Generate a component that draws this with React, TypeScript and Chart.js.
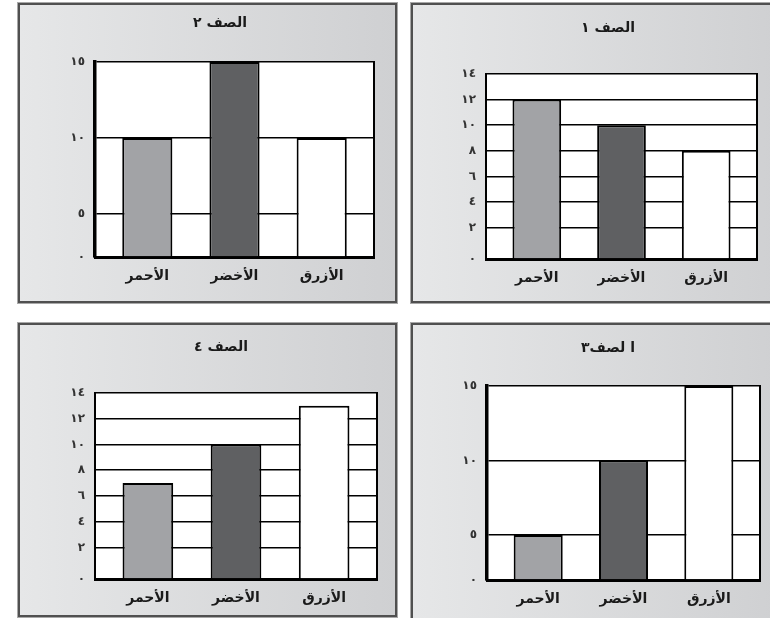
import React, { useEffect, useRef } from 'react';
import { Chart, registerables } from 'chart.js';

Chart.register(...registerables);

// ---- data ----
const categories = ['الأحمر', 'الأخضر', 'الأزرق'];
const barColors = ['#a2a3a6', '#5f6062', '#ffffff'];

const title2 = 'الصف ٢';
const title1 = 'الصف ١';
const title4 = 'الصف ٤';
const title3 = 'ا لصف٣';

const values2 = [10, 15, 10];
const values1 = [12, 10, 8];
const values4 = [7, 10, 13];
const values3 = [5, 10, 15];

const ticksBy5 = [0, 5, 10, 15];
const ticksBy5Labels = ['٠', '٥', '١٠', '١٥'];
const ticksBy2 = [0, 2, 4, 6, 8, 10, 12, 14];
const ticksBy2Labels = ['٠', '٢', '٤', '٦', '٨', '١٠', '١٢', '١٤'];

const FONT = '"DejaVu Sans", sans-serif';

type PanelCfg = {
  title: string;
  values: number[];
  ticks: number[];
  tickLabels: string[];
  yMin: number;
  yMax: number;
  box: { left: number; top: number; width: number; height: number };
  padL: number;
  padR: number;
  yW: number;
  xH: number;
  tTop: number;
  tBot: number;
  yBorder: number;
};

const panels: PanelCfg[] = [
  { title: title2, values: values2, ticks: ticksBy5, tickLabels: ticksBy5Labels, yMin: 2.17, yMax: 15,
    box: { left: 18, top: 3, width: 379, height: 300 }, padL: 46, padR: 21, yW: 29, xH: 44, tTop: 9.6, tBot: 30.6, yBorder: 3.5 },
  { title: title1, values: values1, ticks: ticksBy2, tickLabels: ticksBy2Labels, yMin: -0.45, yMax: 14,
    box: { left: 411, top: 3, width: 370, height: 300 }, padL: 46, padR: 22, yW: 27, xH: 42, tTop: 14.6, tBot: 37.6, yBorder: 2 },
  { title: title4, values: values4, ticks: ticksBy2, tickLabels: ticksBy2Labels, yMin: -0.45, yMax: 14,
    box: { left: 18, top: 323, width: 379, height: 294 }, padL: 45, padR: 18, yW: 30, xH: 36, tTop: 13.6, tBot: 37.6, yBorder: 2 },
  { title: title3, values: values3, ticks: ticksBy5, tickLabels: ticksBy5Labels, yMin: 1.98, yMax: 15,
    box: { left: 411, top: 323, width: 370, height: 300 }, padL: 43, padR: 19, yW: 31, xH: 41, tTop: 14.6, tBot: 29.6, yBorder: 3.5 },
];

const framePlugin = {
  id: 'plotFrame',
  beforeDraw(chart: any) {
    const { ctx, chartArea } = chart;
    ctx.save();
    ctx.fillStyle = '#ffffff';
    ctx.fillRect(chartArea.left, chartArea.top, chartArea.right - chartArea.left, chartArea.bottom - chartArea.top);
    ctx.restore();
  },
  beforeDatasetsDraw(chart: any) {
    const { ctx, chartArea } = chart;
    ctx.save();
    ctx.strokeStyle = '#000';
    ctx.lineWidth = 2;
    ctx.beginPath();
    ctx.moveTo(chartArea.right, chartArea.top - 1);
    ctx.lineTo(chartArea.right, chartArea.bottom);
    ctx.stroke();
    ctx.restore();
  },
};

function Panel({ cfg }: { cfg: PanelCfg }) {
  const ref = useRef<HTMLCanvasElement | null>(null);
  const cw = cfg.box.width - 4;
  const ch = cfg.box.height - 4;

  useEffect(() => {
    if (!ref.current) return;
    const chart = new Chart(ref.current, {
      type: 'bar',
      data: {
        labels: categories,
        datasets: [
          {
            data: cfg.values.map((v, i) => ({ x: i, y: v })),
            backgroundColor: barColors,
            borderColor: '#000',
            borderWidth: 2,
            borderSkipped: 'start',
            base: cfg.yMin,
            barPercentage: 0.575,
            categoryPercentage: 1,
          } as any,
        ],
      },
      options: {
        responsive: false,
        animation: false,
        devicePixelRatio: 1,
        layout: { padding: { left: cfg.padL, right: cfg.padR, top: 0, bottom: 0 } },
        plugins: {
          legend: { display: false },
          tooltip: { enabled: false },
          title: {
            display: true,
            text: cfg.title,
            color: '#1a1a1a',
            font: { family: FONT, size: 14, weight: 'bold' },
            padding: { top: cfg.tTop, bottom: cfg.tBot },
          },
        },
        scales: {
          x: {
            type: 'linear',
            offset: false,
            min: -0.6,
            max: 2.6,
            afterBuildTicks: (scale: any) => {
              scale.ticks = categories.map((_, i) => ({ value: i }));
            },
            afterFit: (scale: any) => {
              scale.height = cfg.xH;
            },
            grid: { display: false, drawTicks: false, offset: false },
            border: { display: true, color: '#000', width: 3 },
            ticks: {
              padding: 11,
              color: '#1a1a1a',
              font: { family: FONT, size: 14, weight: 'bold' },
              callback: (v: any) => categories[v as number] ?? '',
              maxRotation: 0,
              autoSkip: false,
            },
          },
          y: {
            type: 'linear',
            min: cfg.yMin,
            max: cfg.yMax,
            afterBuildTicks: (scale: any) => {
              scale.ticks = cfg.ticks.map((v, i) => ({ value: i === 0 ? cfg.yMin : v }));
            },
            afterFit: (scale: any) => {
              scale.width = cfg.yW;
            },
            grid: { color: '#000', lineWidth: 1.6, drawTicks: false },
            border: { display: true, color: '#000', width: cfg.yBorder },
            ticks: {
              padding: 10,
              color: '#333',
              font: { family: FONT, size: 12, weight: 'bold' },
              callback: (_v: any, idx: number) => cfg.tickLabels[idx],
              autoSkip: false,
            },
          },
        },
      },
      plugins: [framePlugin],
    } as any);
    return () => chart.destroy();
  }, []);

  return (
    <div
      style={{
        position: 'absolute',
        left: cfg.box.left,
        top: cfg.box.top,
        width: cfg.box.width,
        height: cfg.box.height,
        boxSizing: 'border-box',
        border: '2px solid #505050',
        boxShadow: '0 0 0 1px #a8a8a8',
        background: 'linear-gradient(to right, #e6e7e8, #cfd0d2)',
      }}
    >
      <canvas ref={ref} width={cw} height={ch} style={{ display: 'block', width: cw, height: ch }} />
    </div>
  );
}

export default function App() {
  return (
    <div
      style={{
        position: 'fixed',
        left: 0,
        top: 0,
        width: 770,
        height: 618,
        overflow: 'hidden',
        background: '#fff',
      }}
    >
      {panels.map((p, i) => (
        <Panel key={i} cfg={p} />
      ))}
    </div>
  );
}
